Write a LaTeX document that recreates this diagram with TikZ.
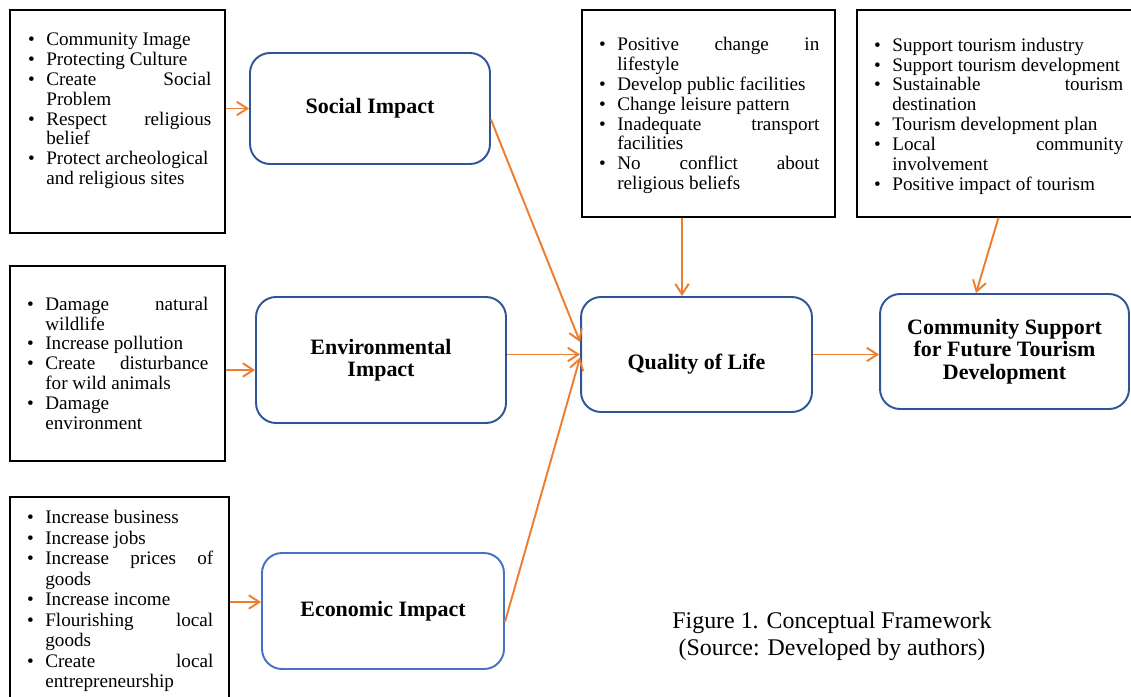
\documentclass[tikz,border=0pt]{standalone}
\usepackage{fontspec}
\setmainfont{Liberation Serif}
\usetikzlibrary{arrows.meta,positioning}
\definecolor{boxblue}{HTML}{2F5597}
\definecolor{econblue}{HTML}{4472C4}
\definecolor{arrorange}{HTML}{ED7D31}
\newcommand{\bul}{\par\noindent\llap{\textbullet\hspace{6.5pt}}}

\begin{document}
\begin{tikzpicture}[x=.02cm,y=-.02cm,
    listbox/.style={draw,line width=.7pt},
    listtext/.style={anchor=north west,inner sep=0pt,align=justify,font=\fontsize{10.9}{11.3}\selectfont},
    impact/.style={draw=boxblue,line width=1.1pt,rounded corners=.4cm,align=center,font=\fontsize{12.5}{12.8}\selectfont\bfseries},
    flow/.style={draw=arrorange,line width=1.1pt,-{Straight Barb[length=2.1mm,width=2.7mm]}}]
\useasboundingbox (0,0) rectangle (1131,696);

\node[listbox,minimum width=4.3cm,minimum height=4.46cm] (sbox) at (117.5,121.5) {};
\node[listtext,text width=3.3cm] (stext) at (46,25.5) {\bul Community Image
    \bul Protecting Culture
    \bul Create\hfill Social\newline Problem
    \bul Respect\hfill religious\newline belief
    \bul Protect archeological\newline and religious sites\par};

\node[listbox,minimum width=4.3cm,minimum height=3.9cm] (ebox) at (117.5,363.5) {};
\node[listtext,text width=3.26cm] (etext) at (45,290) {\bul Damage\hfill natural\newline wildlife
    \bul Increase pollution
    \bul Create\hfill disturbance\newline for wild animals
    \bul Damage\newline environment\par};

\node[listbox,minimum width=4.38cm,minimum height=4.86cm] (cbox) at (119.5,618.5) {};
\node[listtext,text width=3.36cm,font=\fontsize{10.9}{11.65}\selectfont] (ctext) at (45,503) {\bul Increase business
    \bul Increase jobs
    \bul Increase\hfill prices\hfill of\newline goods
    \bul Increase income
    \bul Flourishing\hfill local\newline goods
    \bul Create\hfill local\newline entrepreneurship\par};

\node[listbox,minimum width=5.06cm,minimum height=4.14cm] (qbox) at (708.5,113.5) {};
\node[listtext,text width=4.04cm] (qtext) at (617,30.5) {\bul Positive\hfill change\hfill in\newline lifestyle
    \bul Develop public facilities
    \bul Change leisure pattern
    \bul Inadequate\hfill transport\newline facilities
    \bul No\hfill conflict\hfill about\newline religious beliefs\par};

\node[listbox,minimum width=5.66cm,minimum height=4.14cm] (tbox) at (998.5,113.5) {};
\node[listtext,text width=4.62cm] (ttext) at (892,31) {\bul Support tourism industry
    \bul Support tourism development
    \bul Sustainable\hfill tourism\newline destination
    \bul Tourism development plan
    \bul Local\hfill community\newline involvement
    \bul Positive impact of tourism\par};

\node[impact,minimum width=4.8cm,minimum height=2.22cm] (soc) at (370,108.5) {Social Impact};
\node[impact,minimum width=5cm,minimum height=2.52cm] (env) at (381,360) {Environmental\\Impact};
\node[impact,draw=econblue,minimum width=4.84cm,minimum height=2.32cm] (eco) at (383,611) {Economic Impact};
\node[impact,minimum width=4.62cm,minimum height=2.3cm] (qol) at (696.5,354.5) {\raisebox{-.2cm}[\height][\depth]{Quality of Life}};
\node[impact,minimum width=4.98cm,minimum height=2.3cm] (cs) at (1004.5,351.5) {Community Support\\for Future Tourism\\Development};

\node[align=center,font=\fontsize{13.6}{15.4}\selectfont] (cap) at (832,636) {Figure 1. Conceptual Framework\\(Source: Developed by authors)};

\coordinate (ein) at ([yshift=-.2cm]env.west);
\coordinate (cin) at ([yshift=.18cm]eco.west);
\draw[flow] (sbox.east |- soc.west) -- (soc.west);
\draw[flow] (ein -| ebox.east) -- (ein);
\draw[flow] (cin -| cbox.east) -- (cin);
\draw[flow] ([yshift=-.22cm]soc.east) -- ([yshift=.25cm]qol.west);
\draw[flow] (env.east |- qol.west) -- (qol.west);
\draw[flow] ([yshift=-.22cm]eco.east) -- ([yshift=-.06cm]qol.west);
\draw[flow] ([xshift=-.53cm]qbox.south) -- ([xshift=-.53cm]qbox.south |- qol.north);
\draw[flow] (tbox.south) -- ([xshift=-.57cm]cs.north);
\draw[flow] (qol.east) -- (qol.east -| cs.west);
\end{tikzpicture}
\end{document}
